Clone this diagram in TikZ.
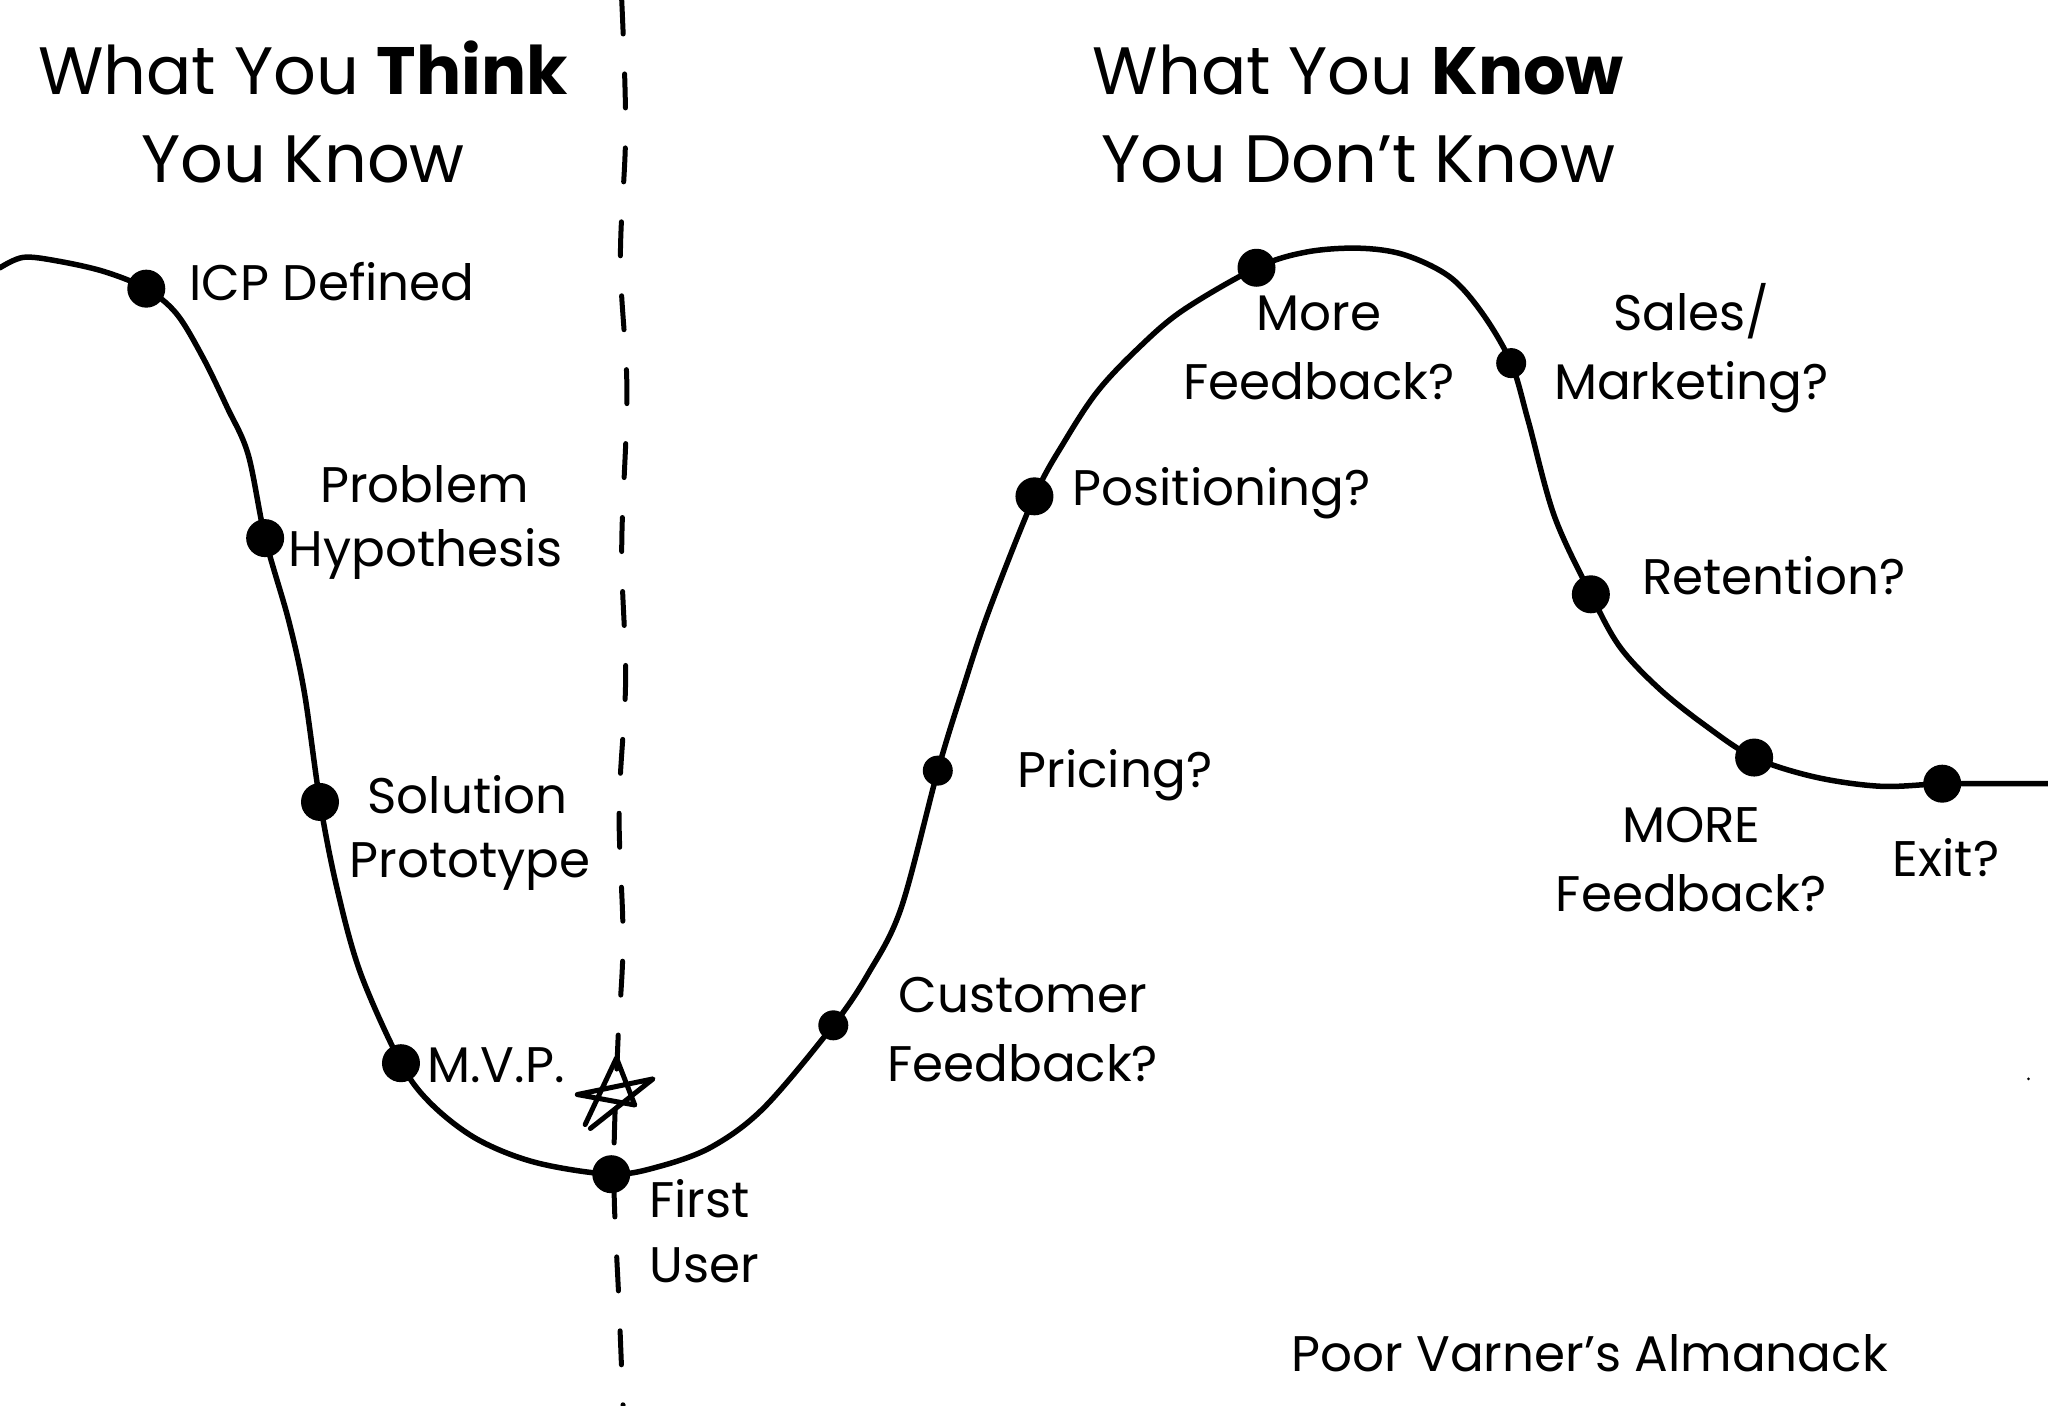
\documentclass[tikz,border=0pt]{standalone}
\usepackage{fontspec}
\setmainfont{Poppins}
\begin{document}
\begin{tikzpicture}[x=1.30612pt,y=-1.30612pt,
  curveline/.style={line width=5.5pt,line cap=round,line join=round},
  bigdot/.style={circle,fill=black,inner sep=0pt,minimum size=38pt},
  smalldot/.style={circle,fill=black,inner sep=0pt,minimum size=30pt},
  title/.style={font=\fontsize{67}{80}\selectfont,anchor=base,inner sep=0pt},
  lbl/.style={font=\fontsize{50}{60}\selectfont,anchor=base,inner sep=0pt},
  lbll/.style={lbl,anchor=base west},
  divider/.style={line width=5pt,line cap=round,dash pattern=on 34pt off 40pt}]
\useasboundingbox (0,0) rectangle (1568,1076);
\fill[white] (0,0) rectangle (1568,1076);

% titles
\node[title] (t1a) at (232,72) {What You \textbf{Think}};
\node[title] (t1b) at (232,140) {You Know};
\node[title] (t2a) at (1040,72) {What You \textbf{Know}};
\node[title] (t2b) at (1040,140) {You Don’t Know};

% divider
\coordinate (dtop) at (476,0);
\coordinate (dbot) at (477,1076);
\draw[divider] plot[smooth,tension=0.6] coordinates {(dtop) (479,100) (475,200) (480,300) (476,420) (479,520) (474,620) (477,720) (473,800) (470,900) (474,1000) (dbot)};

% points on curve
\coordinate (c0) at (0,205);
\coordinate (icp) at (112,221);
\coordinate (prob) at (203,412);
\coordinate (sol) at (245,614);
\coordinate (mvp) at (307,814);
\coordinate (first) at (468,899);
\coordinate (cust) at (638,785);
\coordinate (pric) at (718,590);
\coordinate (pos) at (792,380);
\coordinate (more) at (962,205);
\coordinate (sales) at (1157,278);
\coordinate (ret) at (1218,455);
\coordinate (MORE) at (1343,580);
\coordinate (exit) at (1487,600);
\coordinate (cend) at (1568,600);

\draw[curveline] plot[smooth,tension=0.55] coordinates {
 (c0) (18,197) (45,200) (80,208) (icp) (135,240) (155,273) (174,312) (190,348) (prob)
 (221,475) (233,530) (sol) (258,680) (276,745) (mvp) (330,845) (365,872) (410,890) (first)
 (505,893) (545,878) (585,848) (cust) (665,745) (690,695) (pric) (737,528) (757,468) (pos)
 (815,338) (840,300) (870,268) (905,238) (more) (1000,193) (1040,190) (1075,195) (1110,212) (1135,240) (sales)
 (1170,322) (1190,395) (ret) (1240,495) (1270,527) (1305,555) (MORE) (1390,595) (1440,602) (exit) (1530,600) (cend)};

% dots
\node[bigdot] (dicp) at (icp) {};
\node[bigdot] (dprob) at (prob) {};
\node[bigdot] (dsol) at (sol) {};
\node[bigdot] (dmvp) at (mvp) {};
\node[bigdot] (dfirst) at (first) {};
\node[smalldot] (dcust) at (cust) {};
\node[smalldot] (dpric) at (pric) {};
\node[bigdot] (dpos) at (pos) {};
\node[bigdot] (dmore) at (more) {};
\node[smalldot] (dsales) at (sales) {};
\node[bigdot] (dret) at (ret) {};
\node[bigdot] (dMORE) at (MORE) {};
\node[bigdot] (dexit) at (exit) {};

% star
\coordinate (s1) at (448,861);
\coordinate (s2) at (472,810);
\coordinate (s3) at (486,846);
\coordinate (s4) at (442,838);
\coordinate (s5) at (500,826);
\coordinate (s6) at (452,864);
\draw[line width=5pt,line join=round,line cap=round] (s1) -- (s2) -- (s3) -- (s4) -- (s5) -- (s6);

% labels
\node[lbll] (licp) at (145,230) {ICP Defined};
\node[lbl] (lprob1) at (325,385) {Problem};
\node[lbl] (lprob2) at (326,434) {Hypothesis};
\node[lbl] (lsol1) at (358,623) {Solution};
\node[lbl] (lsol2) at (360,672) {Prototype};
\node[lbll] (lmvp) at (327,829) {M.V.P.};
\node[lbll] (lfirst1) at (497,932) {First};
\node[lbll] (lfirst2) at (497,982) {User};
\node[lbl] (lcust1) at (783,775) {Customer};
\node[lbl] (lcust2) at (783,828) {Feedback?};
\node[lbll] (lpric) at (779,603) {Pricing?};
\node[lbll] (lpos) at (821,387) {Positioning?};
\node[lbl] (lmore1) at (1010,253) {More};
\node[lbl] (lmore2) at (1010,306) {Feedback?};
\node[lbl] (lsales1) at (1295,253) {Sales/};
\node[lbl] (lsales2) at (1295,306) {Marketing?};
\node[lbll] (lret) at (1257,455) {Retention?};
\node[lbl] (lMORE1) at (1295,645) {MORE};
\node[lbl] (lMORE2) at (1295,698) {Feedback?};
\node[lbl] (lexit) at (1490,671) {Exit?};
\node[lbl] (credit) at (1217,1050) {Poor Varner’s Almanack};

\fill (1553,826) circle (1.5pt);
\end{tikzpicture}
\end{document}
